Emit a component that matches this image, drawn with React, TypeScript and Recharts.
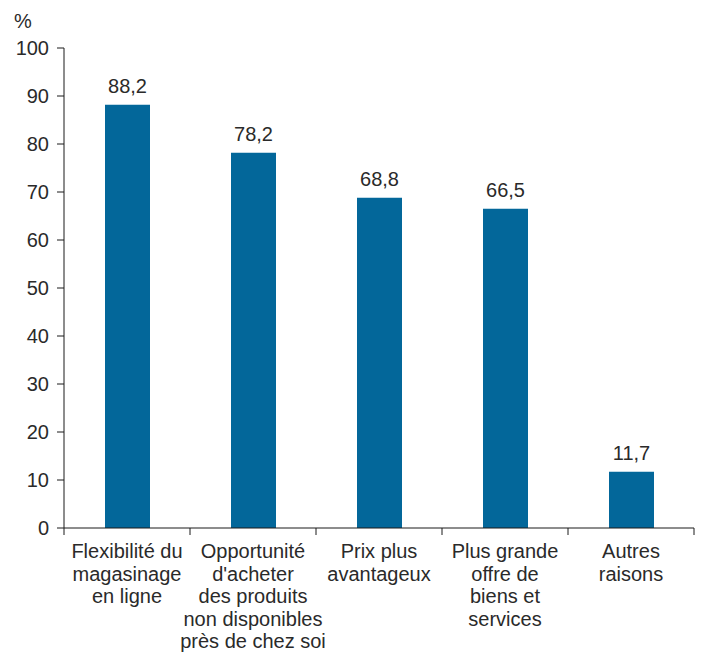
import React from 'react';
import { BarChart, Bar, XAxis, YAxis, LabelList } from 'recharts';

const categories: string[][] = [
  ['Flexibilité du', 'magasinage', 'en ligne'],
  ['Opportunité', "d'acheter", 'des produits', 'non disponibles', 'près de chez soi'],
  ['Prix plus', 'avantageux'],
  ['Plus grande', 'offre de', 'biens et', 'services'],
  ['Autres', 'raisons'],
];
const values: number[] = [88.2, 78.2, 68.8, 66.5, 11.7];
const yTicks: number[] = [0, 10, 20, 30, 40, 50, 60, 70, 80, 90, 100];

const data = categories.map((lines, i) => ({ name: lines.join(' '), value: values[i] }));

const FONT = '"Liberation Sans", Arial, sans-serif';
const TEXT = '#2a2a2a';
const AXIS = '#1a1a1a';
const BAR = '#03679A';
const FS = 20;

const CategoryTick = (props: any) => {
  const { x, y, index, payload } = props;
  const lines = categories[index] || [];
  const half = payload && typeof payload.offset === 'number' ? payload.offset : 0;
  const isLast = index === categories.length - 1;
  return (
    <g>
      <line x1={x - half} x2={x - half} y1={y} y2={y + 7} stroke={AXIS} />
      {isLast && <line x1={x + half} x2={x + half} y1={y} y2={y + 7} stroke={AXIS} />}
      <text x={x} y={y} textAnchor="middle" fontFamily={FONT} fontSize={FS} fill={TEXT}>
        {lines.map((l, i) => (
          <tspan key={i} x={x} y={y + 30 + i * 22.5}>{l}</tspan>
        ))}
      </text>
    </g>
  );
};

const fmt = (v: any) => String(v).replace('.', ',');

export default function App() {
  return (
    <div style={{ position: 'absolute', left: 0, top: 0 }}>
      <BarChart
        width={705}
        height={654}
        data={data}
        margin={{ top: 48, right: 11, bottom: 0, left: 0 }}
        barSize={45}
      >
        <XAxis
          dataKey="name"
          height={126}
          tickLine={false}
          tickSize={0}
          tickMargin={0}
          axisLine={{ stroke: AXIS }}
          tick={<CategoryTick />}
          interval={0}
        />
        <YAxis
          domain={[0, 100]}
          ticks={yTicks}
          width={64}
          tickSize={7}
          tickMargin={8}
          tickLine={{ stroke: AXIS }}
          axisLine={{ stroke: AXIS }}
          tick={{ fontFamily: FONT, fontSize: FS, fill: TEXT }}
          label={({ viewBox }: any) => (
            <text x={(viewBox?.x ?? 0) + 14} y={(viewBox?.y ?? 48) - 20} fontFamily={FONT} fontSize={FS} fill={TEXT}>%</text>
          )}
        />
        <Bar dataKey="value" fill={BAR} isAnimationActive={false}>
          <LabelList
            dataKey="value"
            position="top"
            offset={12}
            formatter={fmt}
            style={{ fontFamily: FONT, fontSize: FS, fill: TEXT }}
          />
        </Bar>
      </BarChart>
    </div>
  );
}
